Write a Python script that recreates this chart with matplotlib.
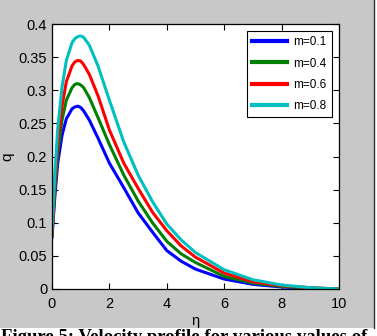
import matplotlib
matplotlib.use("Agg")
import matplotlib.pyplot as plt
from matplotlib.patches import Rectangle
from matplotlib import font_manager

# values
eta = [0, 0.1, 0.2, 0.35, 0.5, 0.7, 0.8, 0.9, 1.0, 1.1, 1.3, 1.6, 2.0, 2.5,
       3.0, 3.5, 4.0, 4.5, 5.0, 6.0, 7.0, 8.0, 9.0, 10.0]
q_m01 = [0.078, 0.140, 0.190, 0.232, 0.257, 0.272, 0.275, 0.276, 0.274, 0.269,
         0.255, 0.228, 0.190, 0.153, 0.115, 0.086, 0.058, 0.042, 0.030, 0.015,
         0.007, 0.003, 0.001, 0.0]
q_m04 = [0.080, 0.150, 0.205, 0.255, 0.285, 0.304, 0.309, 0.310, 0.308, 0.304,
         0.289, 0.259, 0.218, 0.172, 0.133, 0.100, 0.072, 0.053, 0.040, 0.019,
         0.009, 0.004, 0.0015, 0.0]
q_m06 = [0.085, 0.160, 0.220, 0.276, 0.313, 0.337, 0.343, 0.345, 0.344, 0.339,
         0.324, 0.292, 0.240, 0.190, 0.152, 0.116, 0.088, 0.065, 0.048, 0.024,
         0.011, 0.005, 0.002, 0.0]
q_m08 = [0.090, 0.175, 0.242, 0.305, 0.345, 0.372, 0.378, 0.381, 0.382, 0.380,
         0.368, 0.337, 0.285, 0.222, 0.172, 0.132, 0.098, 0.074, 0.055, 0.029,
         0.014, 0.006, 0.002, 0.0]
labels = ["m=0.1", "m=0.4", "m=0.6", "m=0.8"]
colors = ["#0000ff", "#008000", "#ff0000", "#00bfbf"]
xticks = [0, 2, 4, 6, 8, 10]
yticks = [0, 0.05, 0.1, 0.15, 0.2, 0.25, 0.3, 0.35, 0.4]
ytick_labels = ["0", "0.05", "0.1", "0.15", "0.2", "0.25", "0.3", "0.35", "0.4"]
caption = "Figure 5: Velocity profile for various values of"

names = {f.name for f in font_manager.fontManager.ttflist}
narrow = "Liberation Sans Narrow" if "Liberation Sans Narrow" in names else "Liberation Sans"
plt.rcParams["font.family"] = [narrow, "DejaVu Sans"]

fig = plt.figure(figsize=(3.77, 3.36), dpi=100)
fig.patch.set_facecolor("#c8c8c8")
# white page strip below and right of the grey matlab panel
fig.patches.append(Rectangle((0, 0), 1, 8 / 336, transform=fig.transFigure,
                             facecolor="white", edgecolor="none", zorder=0))
fig.patches.append(Rectangle((374 / 377, 0), 3 / 377, 1, transform=fig.transFigure,
                             facecolor="white", edgecolor="none", zorder=0))
fig.add_artist(plt.Line2D([373.5 / 377, 373.5 / 377], [8 / 336, 1],
                          transform=fig.transFigure, color="#333333", lw=1))

ax = fig.add_axes([52 / 377, 47 / 336, 287 / 377, 265 / 336])
for q, lab, c in zip([q_m01, q_m04, q_m06, q_m08], labels, colors):
    ax.plot(eta, q, color=c, lw=2.2, label=lab)

ax.set_xlim(0, 10)
ax.set_ylim(0, 0.4)
ax.set_xticks(xticks)
ax.set_xticklabels([str(t) for t in xticks])
ax.set_yticks(yticks)
ax.set_yticklabels(ytick_labels)
ax.tick_params(direction="in", top=True, right=True, labelsize=10.5, length=4,
               width=0.8)
ax.tick_params(axis="x", pad=6)
ax.tick_params(axis="y", pad=3.5)
for s in ax.spines.values():
    s.set_linewidth(0.9)
ax.set_xlabel("η", fontsize=10.5, labelpad=2)
ax.set_ylabel("q", fontsize=11, labelpad=3)

leg = ax.legend(loc="upper right", fancybox=False, framealpha=1, edgecolor="black",
                fontsize=8.5, handlelength=3.0, borderaxespad=0.6,
                labelspacing=0.78, borderpad=0.45, handletextpad=0.5)
leg.get_frame().set_linewidth(0.8)
for line in leg.get_lines():
    line.set_linewidth(3)

fig.text(0.003, -6.5 / 336, caption, fontsize=13.5, fontweight="bold",
         family="Liberation Serif", va="baseline")

fig.savefig("out.png", dpi=100, facecolor=fig.get_facecolor())
